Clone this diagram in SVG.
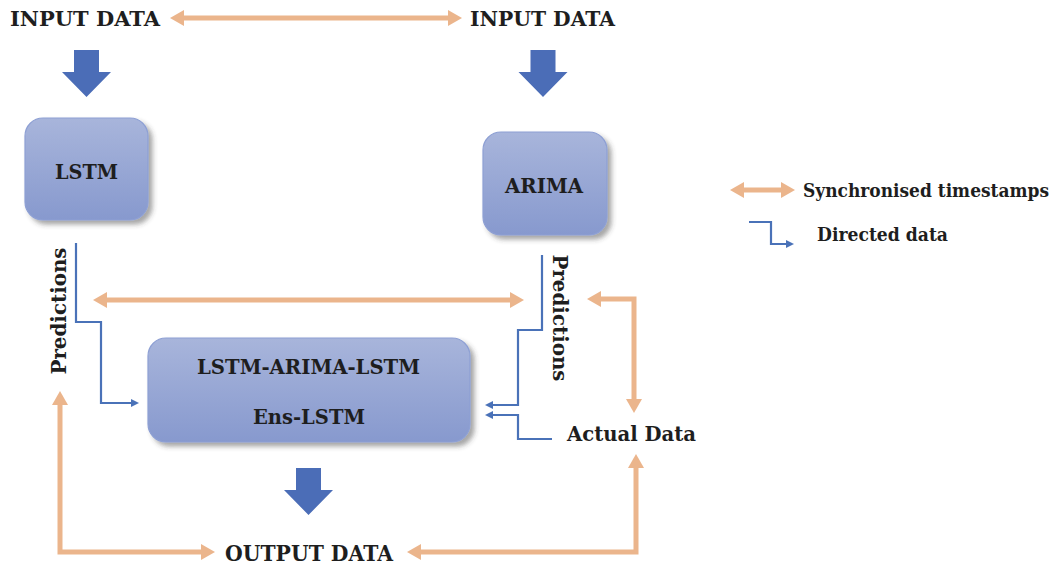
<svg xmlns="http://www.w3.org/2000/svg" width="1062" height="565" viewBox="0 0 1062 565">
  <style>
    .t { font-family: "DejaVu Serif", "Liberation Serif", serif; font-weight: bold; fill: #1e1e1e; }
    .box { fill: url(#boxGrad); stroke: #8ea0d4; stroke-width: 1.2; filter: url(#shadow); }
    .sync { fill: none; stroke: #ebb58c; stroke-width: 5; marker-start: url(#oHead); marker-end: url(#oHead); }
    .dir { fill: none; stroke: #4a72b8; stroke-width: 2.2; marker-end: url(#bHead); }
    .block { fill: #4b6db7; }
  </style>
  <defs>
    <linearGradient id="boxGrad" x1="0" y1="0" x2="0" y2="1">
      <stop offset="0" stop-color="#a8b5db"/>
      <stop offset="1" stop-color="#8799ce"/>
    </linearGradient>
    <filter id="shadow" x="-20%" y="-20%" width="140%" height="150%">
      <feDropShadow dx="4" dy="4" stdDeviation="2.5" flood-color="#3a3a3a" flood-opacity="0.45"/>
    </filter>
    <marker id="oHead" viewBox="0 0 14 16" refX="1" refY="8" markerWidth="14" markerHeight="16" markerUnits="userSpaceOnUse" orient="auto-start-reverse">
      <path d="M0,0 L14,8 L0,16 z" fill="#ebb58c"/>
    </marker>
    <marker id="bHead" viewBox="0 0 8 8" refX="1" refY="4" markerWidth="8" markerHeight="8" markerUnits="userSpaceOnUse" orient="auto">
      <path d="M0,0 L8,4 L0,8 z" fill="#4a72b8"/>
    </marker>
  </defs>

  <!-- connectors -->
  <g id="connectors">
    <path class="sync" d="M183,18 H449"/>
    <path class="sync" d="M106,300 H511"/>
    <path class="sync" d="M600,299 H634 V400"/>
    <path class="sync" d="M60,404 V552 H202"/>
    <path class="sync" d="M420,552 H636 V467"/>

    <path class="dir" d="M76,243 V322 H101 V403 H132"/>
    <path class="dir" d="M542,255 V330 H518 V405 H492"/>
    <path class="dir" d="M552,439 H518 V415 H492"/>

    <polygon class="block" points="74,50 99,50 99,72 111,72 86.5,97 62,72 74,72"/>
    <polygon class="block" points="530.5,50 555.5,50 555.5,72 567.5,72 543,97 518.5,72 530.5,72"/>
    <polygon class="block" points="296,468 321,468 321,490 333,490 308.5,515 284,490 296,490"/>
  </g>

  <!-- terminals -->
  <g id="input-left">
    <text class="t" x="10" y="26" font-size="21" textLength="150" lengthAdjust="spacingAndGlyphs">INPUT DATA</text>
  </g>
  <g id="input-right">
    <text class="t" x="470" y="26" font-size="21" textLength="145" lengthAdjust="spacingAndGlyphs">INPUT DATA</text>
  </g>
  <g id="output">
    <text class="t" x="225" y="561" font-size="22" textLength="168" lengthAdjust="spacingAndGlyphs">OUTPUT DATA</text>
  </g>
  <g id="actual-data">
    <text class="t" x="567" y="441" font-size="21" textLength="129" lengthAdjust="spacingAndGlyphs">Actual Data</text>
  </g>

  <!-- models -->
  <g id="lstm">
    <rect class="box" x="25" y="118" width="123" height="102" rx="18"/>
    <text class="t" x="86.5" y="179" font-size="21" text-anchor="middle" textLength="63" lengthAdjust="spacingAndGlyphs">LSTM</text>
  </g>
  <g id="arima">
    <rect class="box" x="483" y="132" width="124" height="103" rx="18"/>
    <text class="t" x="544" y="193" font-size="21" text-anchor="middle" textLength="78" lengthAdjust="spacingAndGlyphs">ARIMA</text>
  </g>
  <g id="ensemble">
    <rect class="box" x="148" y="338" width="322" height="104" rx="18"/>
    <text class="t" x="308.5" y="374" font-size="21" text-anchor="middle" textLength="223" lengthAdjust="spacingAndGlyphs">LSTM-ARIMA-LSTM</text>
    <text class="t" x="309" y="424" font-size="21" text-anchor="middle" textLength="112" lengthAdjust="spacingAndGlyphs">Ens-LSTM</text>
  </g>

  <!-- edge labels -->
  <g id="pred-left">
    <text class="t" transform="translate(66,311) rotate(-90)" font-size="21" text-anchor="middle" textLength="127" lengthAdjust="spacingAndGlyphs">Predictions</text>
  </g>
  <g id="pred-right">
    <text class="t" transform="translate(553,318) rotate(90)" font-size="21" text-anchor="middle" textLength="127" lengthAdjust="spacingAndGlyphs">Predictions</text>
  </g>

  <!-- legend -->
  <g id="legend">
    <path class="sync" d="M743,190 H782"/>
    <text class="t" x="803" y="197" font-size="19" textLength="246" lengthAdjust="spacingAndGlyphs">Synchronised timestamps</text>
    <path class="dir" d="M749,222 H771 V244 H787"/>
    <text class="t" x="817" y="241" font-size="19" textLength="131" lengthAdjust="spacingAndGlyphs">Directed data</text>
  </g>
</svg>
